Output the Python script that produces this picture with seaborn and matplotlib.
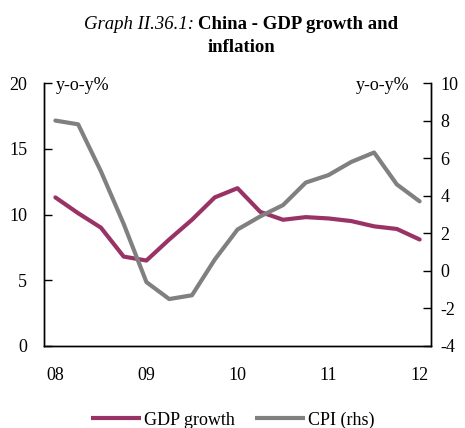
import matplotlib
matplotlib.use("Agg")
import matplotlib.pyplot as plt
import seaborn as sns
import pandas as pd

# quarterly data, 2008Q1 - 2012Q1
quarters = ["08Q1", "08Q2", "08Q3", "08Q4", "09Q1", "09Q2", "09Q3", "09Q4",
            "10Q1", "10Q2", "10Q3", "10Q4", "11Q1", "11Q2", "11Q3", "11Q4", "12Q1"]
gdp_growth = [11.3, 10.1, 9.0, 6.8, 6.5, 8.1, 9.6, 11.3,
              12.0, 10.2, 9.6, 9.8, 9.7, 9.5, 9.1, 8.9, 8.1]
cpi = [8.0, 7.8, 5.3, 2.5, -0.6, -1.5, -1.3, 0.6,
       2.2, 2.9, 3.5, 4.7, 5.1, 5.8, 6.3, 4.6, 3.7]
year_labels = ["08", "09", "10", "11", "12"]

GDP_COLOR = "#993366"
CPI_COLOR = "#808080"

df = pd.DataFrame({"quarter": quarters, "gdp": gdp_growth, "cpi": cpi})
df["pos"] = range(len(df))

sns.set_style("white")
plt.rcParams["font.family"] = ["Liberation Serif", "DejaVu Serif"]
plt.rcParams["font.size"] = 13
plt.rcParams["axes.unicode_minus"] = False
for k in ("text.color", "axes.labelcolor", "xtick.color", "ytick.color"):
    plt.rcParams[k] = "black"

fig = plt.figure(figsize=(4.65, 4.28), dpi=100)
ax = fig.add_axes([44 / 465, 1 - 346 / 428, (431 - 44) / 465, (346 - 83) / 428])
ax2 = ax.twinx()

sns.lineplot(data=df, x="pos", y="gdp", ax=ax, color=GDP_COLOR, lw=3, label="GDP growth", legend=False)
sns.lineplot(data=df, x="pos", y="cpi", ax=ax2, color=CPI_COLOR, lw=3, label="CPI (rhs)", legend=False)

n = len(quarters)
ax.set_xlim(-0.5, n - 0.5)
ax.set_ylim(0, 20)
ax2.set_ylim(-4, 10)
ax.set_yticks([0, 5, 10, 15, 20])
ax2.set_yticks(range(-4, 11, 2))

# year labels at Q1, tick marks on year boundaries
ax.set_xticks([i for i in range(0, n, 4)])
ax.set_xticklabels(year_labels)
ax.set_xticks([i - 0.5 for i in range(4, n, 4)], minor=True)
ax.tick_params(axis="x", which="major", length=0, pad=15, labelcolor="black")
ax.tick_params(axis="x", which="minor", direction="in", length=6, width=1, color="black")
ax.tick_params(axis="y", direction="in", length=6, width=1, color="black", pad=12, left=True, labelcolor="black")
ax2.tick_params(axis="y", direction="in", length=6, width=1, color="black", pad=7, right=True, labelcolor="black")

for a in (ax, ax2):
    a.set_xlabel("")
    a.set_ylabel("")
    a.spines["top"].set_visible(False)
    for s in ("left", "right", "bottom"):
        a.spines[s].set_color("black")
        a.spines[s].set_linewidth(1)

ax.text(0.03, 0.99, "y-o-y%", transform=ax.transAxes, ha="left", va="center", fontsize=13)
ax2.text(0.945, 0.99, "y-o-y%", transform=ax.transAxes, ha="right", va="center", fontsize=13)

# title: italic part + bold part
fig.text(194 / 465, 1 - 29 / 428, "Graph II.36.1:", style="italic", ha="right", va="baseline", fontsize=13.5)
fig.text(198 / 465, 1 - 29 / 428, "China - GDP growth and", weight="bold", ha="left", va="baseline", fontsize=13.5)
fig.text(241 / 465, 1 - 52 / 428, "inflation", weight="bold", ha="center", va="baseline", fontsize=13.5)

h1, l1 = ax.get_legend_handles_labels()
h2, l2 = ax2.get_legend_handles_labels()
leg = fig.legend(h1 + h2, l1 + l2, loc="center", bbox_to_anchor=(0.5, 1 - 420 / 428), ncol=2,
                 frameon=False, handlelength=2.8, handletextpad=0.15, columnspacing=1.1, fontsize=13)
for line in leg.get_lines():
    line.set_solid_capstyle("butt")

fig.savefig("out.png", dpi=100)
